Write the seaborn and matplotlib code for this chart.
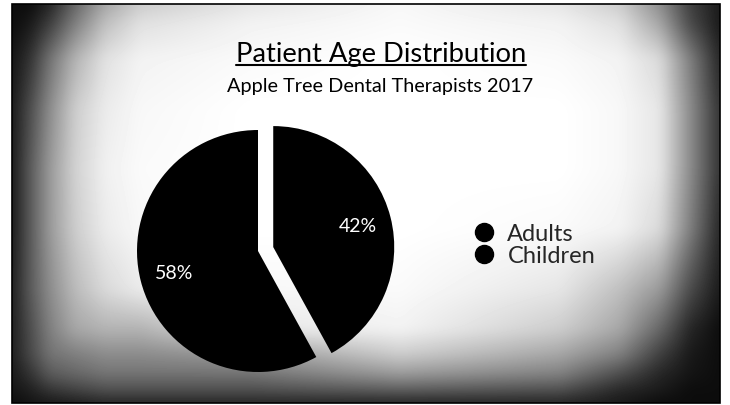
import numpy as np
import matplotlib
matplotlib.use("Agg")
import matplotlib.pyplot as plt
from matplotlib.lines import Line2D
from matplotlib.patches import Rectangle
import seaborn as sns

# data
groups = ["Adults", "Children"]
shares = [42, 58]
title = "Patient Age Distribution"
subtitle = "Apple Tree Dental Therapists 2017"

sns.set_theme(style="white")
plt.rcParams["font.family"] = ["Lato", "DejaVu Sans"]

W, H = 730, 406
fig = plt.figure(figsize=(W / 100, H / 100), dpi=100)
fig.patch.set_facecolor("white")

# page background: darkness sampled on a coarse grid (pixel positions),
# interpolated to full size and softened
grid_x = [12, 30, 50, 75, 105, 140, 250, 400, 560, 620, 660, 690, 720]
grid_y = [5, 25, 60, 110, 170, 230, 290, 330, 355, 375, 392, 404]
grid_dark = np.array([
    [.95, .95, .85, .60, .35, .20, .10, .03, .10, .20, .45, .75, .90],
    [.95, .90, .75, .50, .25, .12, .05, .02, .05, .12, .35, .70, .90],
    [.92, .80, .55, .30, .12, .05, .02, .00, .02, .05, .15, .50, .85],
    [.90, .70, .45, .20, .08, .03, .00, .00, .00, .03, .10, .45, .80],
    [.90, .65, .40, .18, .06, .02, .00, .00, .00, .03, .10, .45, .80],
    [.90, .65, .40, .20, .08, .03, .00, .00, .02, .05, .15, .50, .85],
    [.88, .65, .45, .27, .15, .08, .03, .02, .10, .25, .40, .70, .90],
    [.88, .70, .50, .35, .30, .30, .10, .05, .20, .35, .60, .85, .95],
    [.88, .72, .55, .50, .45, .45, .40, .20, .35, .50, .75, .90, .95],
    [.90, .80, .65, .60, .55, .55, .55, .40, .50, .70, .85, .92, .95],
    [.92, .88, .80, .75, .70, .70, .70, .65, .70, .85, .90, .95, .95],
    [.95, .92, .90, .88, .85, .85, .85, .85, .85, .90, .95, .95, .95],
])

xs = np.arange(W) + 0.5
ys = np.arange(H) + 0.5
rows = np.array([np.interp(xs, grid_x, zr) for zr in grid_dark])
dark = np.column_stack([np.interp(ys, grid_y, rows[:, j]) for j in range(W)])


def soften(a, k=15):
    ker = np.ones(k) / k
    p = k // 2
    a = np.pad(a, p, mode="edge")
    a = np.apply_along_axis(lambda v: np.convolve(v, ker, mode="same"), 1, a)
    a = np.apply_along_axis(lambda v: np.convolve(v, ker, mode="same"), 0, a)
    return a[p:-p, p:-p]


dark = soften(dark)
shade = 1 - dark
yy, xx = np.meshgrid(ys, xs, indexing="ij")
inside = (xx > 12) & (xx < 720) & (yy > 5) & (yy < 404)
shade = np.where(inside, shade, 1.0)

bg = fig.add_axes([0, 0, 1, 1])
bg.set_xlim(0, W)
bg.set_ylim(H, 0)
bg.axis("off")
bg.imshow(shade, cmap="gray", vmin=0, vmax=1, extent=(0, W, H, 0),
          interpolation="bilinear", zorder=0, aspect="auto")
bg.add_patch(Rectangle((12, 5), 708, 399, fill=False, ec="black", lw=1.2))

# pie
cx, cy, r = 258, 252, 121
lim = 1.4
side = 2 * lim * r
ax = fig.add_axes([(cx - side / 2) / W, (H - cy - side / 2) / H, side / W, side / H])
ax.set_facecolor("none")
palette = sns.color_palette(["#000000", "#000000"])
wedges, texts, autotexts = ax.pie(
    shares, colors=palette, startangle=90, counterclock=False,
    explode=[0.13, 0], autopct="%d%%", pctdistance=0.72,
    wedgeprops=dict(linewidth=0, edgecolor="none"),
    textprops=dict(color="white", fontsize=14),
)
ax.set_xlim(-lim, lim)
ax.set_ylim(-lim, lim)
ax.set_aspect("equal")

# legend with round markers
handles = [Line2D([], [], marker="o", ls="", color=c, markersize=13) for c in palette]
fig.legend(handles, groups, loc="upper left", bbox_to_anchor=(472 / W, 1 - 224 / H),
           frameon=False, fontsize=17, handletextpad=0.5, labelspacing=0.05,
           handlelength=1.0, borderpad=0, borderaxespad=0)

# titles
tt = fig.text(381 / W, 1 - 62 / H, title, ha="center", va="baseline", fontsize=19.7, color="black")
fig.text(380 / W, 1 - 92 / H, subtitle, ha="center", va="baseline", fontsize=14.3, color="black")

fig.canvas.draw()
bb = tt.get_window_extent()
uy = (H - 66) / H
fig.add_artist(Line2D([bb.x0 / W, bb.x1 / W], [uy, uy], transform=fig.transFigure,
                      color="black", lw=1.5))

fig.savefig("out.png", dpi=100)
